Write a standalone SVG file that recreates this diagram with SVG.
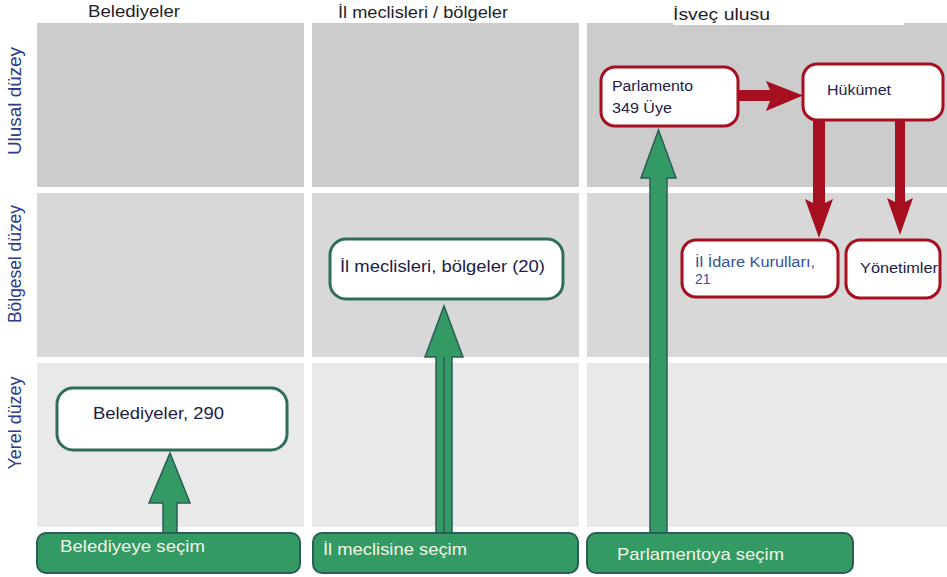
<svg xmlns="http://www.w3.org/2000/svg" width="947" height="577" viewBox="0 0 947 577">
<defs>
<style>
.r1{fill:#cccccc}
.r2{fill:#d8d8d8}
.r3{fill:#e9e9e9}
.hdr{font-family:"Liberation Sans",Arial,sans-serif;font-size:16px;fill:#1e1e2a}
.lvl{font-family:"Liberation Sans",Arial,sans-serif;font-size:18px;fill:#2c3a8c;text-anchor:middle}
.gbox{fill:#ffffff;stroke:#2f6e5e;stroke-width:3}
.rbox{fill:#ffffff;stroke:#a50f1f;stroke-width:3}
.txt{font-family:"Liberation Sans",Arial,sans-serif;font-size:17px;fill:#1c2048}
.rtxt{font-family:"Liberation Sans",Arial,sans-serif;font-size:14px;fill:#1c2048}
.bar{fill:#329a62;stroke:#2b5c58;stroke-width:2}
.btxt{font-family:"Liberation Sans",Arial,sans-serif;font-size:17px;fill:#f2f5e6}
.garr{fill:#329a62;stroke:#2b5c58;stroke-width:1.5;stroke-linejoin:miter}
.rarr{fill:#a50f1f}
</style>
</defs>
<rect width="947" height="577" fill="#ffffff"/>
<g id="grid">
<rect class="r1" x="37" y="23" width="267" height="164"/>
<rect class="r1" x="312" y="23" width="267" height="164"/>
<rect class="r1" x="587" y="23" width="360" height="164"/>
<rect class="r2" x="37" y="193" width="267" height="164"/>
<rect class="r2" x="312" y="193" width="267" height="164"/>
<rect class="r2" x="587" y="193" width="360" height="164"/>
<rect class="r3" x="37" y="363" width="267" height="164"/>
<rect class="r3" x="312" y="363" width="267" height="164"/>
<rect class="r3" x="587" y="363" width="360" height="164"/>
<rect x="673" y="20" width="231" height="5" fill="#ffffff"/>
</g>
<g id="headers">
<text class="hdr" x="88" y="16.5" textLength="92" lengthAdjust="spacingAndGlyphs">Belediyeler</text>
<text class="hdr" x="338" y="18" textLength="170" lengthAdjust="spacingAndGlyphs">İl meclisleri / bölgeler</text>
<text class="hdr" x="673" y="20" textLength="97" lengthAdjust="spacingAndGlyphs">İsveç ulusu</text>
</g>
<g id="levels">
<text class="lvl" transform="translate(21,101) rotate(-90)" textLength="108" lengthAdjust="spacingAndGlyphs">Ulusal düzey</text>
<text class="lvl" transform="translate(21,264) rotate(-90)" textLength="118" lengthAdjust="spacingAndGlyphs">Bölgesel düzey</text>
<text class="lvl" transform="translate(21,423) rotate(-90)" textLength="93" lengthAdjust="spacingAndGlyphs">Yerel düzey</text>
</g>
<g id="connectors">
<polygon class="garr" points="163,534 163,503 149,503 170,453 190,503 177,503 177,534"/>
<polygon class="garr" points="436,534 436,357 425,357 444,306 463,357 452,357 452,534"/>
<line x1="444" y1="357" x2="444" y2="534" stroke="#2b5c58" stroke-width="1.5"/>
<polygon class="garr" points="650,534 650,178 641,178 658.5,130 676,178 667,178 667,534"/>
<polygon class="rarr" points="739,90 770,90 766,81 803,95.5 766,111 770,101 739,101"/>
<polygon class="rarr" points="813,120 825,120 825,203 833,199 819,238 805,199 813,203"/>
<polygon class="rarr" points="895,120 905,120 905,202 913,198 900,235 887,198 895,202"/>
</g>
<g id="node-belediyeler">
<rect class="gbox" x="57" y="388" width="230" height="62" rx="16"/>
<text class="txt" x="93" y="419" textLength="131" lengthAdjust="spacingAndGlyphs">Belediyeler, 290</text>
</g>
<g id="node-il-meclisleri">
<rect class="gbox" x="330" y="239" width="233" height="60" rx="16"/>
<text class="txt" x="340" y="272" textLength="205" lengthAdjust="spacingAndGlyphs">İl meclisleri, bölgeler (20)</text>
</g>
<g id="node-parlamento">
<rect class="rbox" x="601" y="67" width="137" height="59" rx="14"/>
<text class="rtxt" x="612" y="91" textLength="81" lengthAdjust="spacingAndGlyphs">Parlamento</text>
<text class="rtxt" x="612" y="113" textLength="60" lengthAdjust="spacingAndGlyphs">349 Üye</text>
</g>
<g id="node-hukumet">
<rect class="rbox" x="803" y="64" width="140" height="56" rx="14"/>
<text class="rtxt" x="827" y="95" textLength="64" lengthAdjust="spacingAndGlyphs">Hükümet</text>
</g>
<g id="node-il-idare">
<rect class="rbox" x="682" y="240" width="156" height="57" rx="14"/>
<text class="rtxt" x="695" y="267" textLength="120" lengthAdjust="spacingAndGlyphs" fill="#34529c" style="fill:#34529c">İl İdare Kurulları,</text>
<text class="rtxt" x="695" y="284" style="fill:#34529c">21</text>
</g>
<g id="node-yonetimler">
<rect class="rbox" x="846" y="240" width="94" height="58" rx="14"/>
<text class="rtxt" x="860" y="273" textLength="78" lengthAdjust="spacingAndGlyphs">Yönetimler</text>
</g>
<g id="node-belediyeye-secim">
<rect class="bar" x="37" y="533" width="263" height="40" rx="9"/>
<text class="btxt" x="60" y="552" textLength="145" lengthAdjust="spacingAndGlyphs">Belediyeye seçim</text>
</g>
<g id="node-il-meclisine-secim">
<rect class="bar" x="313" y="533" width="265" height="40" rx="9"/>
<text class="btxt" x="323" y="555" textLength="144" lengthAdjust="spacingAndGlyphs">İl meclisine seçim</text>
</g>
<g id="node-parlamentoya-secim">
<rect class="bar" x="587" y="533" width="266" height="40" rx="9"/>
<text class="btxt" x="617" y="560" textLength="167" lengthAdjust="spacingAndGlyphs">Parlamentoya seçim</text>
</g>
</svg>
